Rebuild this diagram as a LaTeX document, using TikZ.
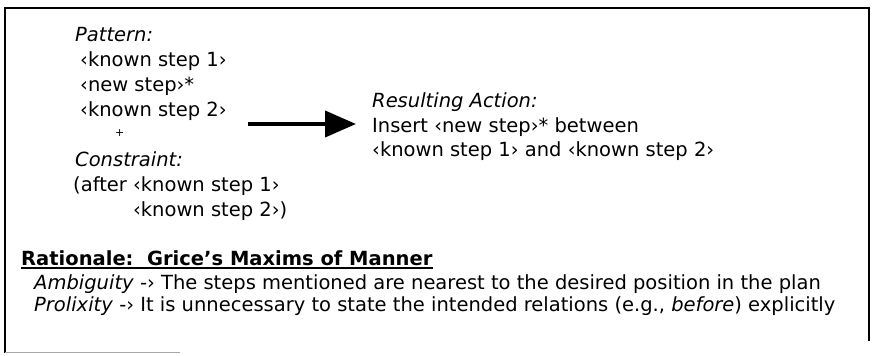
\documentclass[tikz,border=0pt]{standalone}
\usepackage{fontspec}
\setmainfont{DejaVu Sans}
\usetikzlibrary{arrows.meta,calc}
\begin{document}
\begin{tikzpicture}[x=1pt,y=-1pt,
  txt/.style={anchor=base west, inner sep=0pt, font=\fontsize{19.5}{22}\selectfont},
  frame/.style={line width=2pt, line cap=rect},
  bigarrow/.style={line width=4pt, -{Triangle[length=31pt,width=26pt]}}]
\useasboundingbox (0,0) rectangle (873,356);
\fill[white] (0,0) rectangle (873,356);

% outer frame
\draw[frame] (5,352) -- (5,8) -- (869,8) -- (869,340);
\draw[black!35, line width=1pt] (5,352) -- (180,352);

% pattern and constraint
\node[txt] (pat)  at (75,41)  {\itshape Pattern:};
\node[txt] (k1)   at (80,66)  {‹known step 1›};
\node[txt] (ns)   at (80,91)  {‹new step›*};
\node[txt] (k2)   at (80,116) {‹known step 2›};
\node[txt, anchor=center, font=\fontsize{11}{12}\selectfont] (plus)
  at ($(k2.base west)!0.27!(k2.base east) + (0,17)$) {+};
\node[txt] (con)  at (75,166) {\itshape Constraint:};
\node[txt] (aft)  at (73,191) {(after ‹known step 1›};
\node[txt] (aft2) at (73,216) {\phantom{(after }‹known step 2›)};

% resulting action
\node[txt] (res)  at (372,107) {\itshape Resulting Action:};
\node[txt] (ins)  at (372,132) {Insert ‹new step›* between};
\node[txt] (ins2) at (372,156) {‹known step 1› and ‹known step 2›};

\coordinate (atail) at (248,124);
\coordinate (ahead) at (356,124);
\draw[bigarrow] (atail) -- (ahead);

% rationale
\node[txt, font=\fontsize{19.5}{22}\selectfont\bfseries] (rat) at (21,265) {Rationale:\ \ Grice's Maxims of Manner};
\draw[line width=1.5pt] ([yshift=-3pt]rat.base west) -- ([yshift=-3pt]rat.base east);
\node[txt] (amb) at (34,289) {\itshape Ambiguity\/\upshape{} -› The steps mentioned are nearest to the desired position in the plan};
\node[txt] (pro) at (34,311) {\itshape Prolixity\/\upshape{} -› It is unnecessary to state the intended relations (e.g., \textit{before}) explicitly};
\end{tikzpicture}
\end{document}
